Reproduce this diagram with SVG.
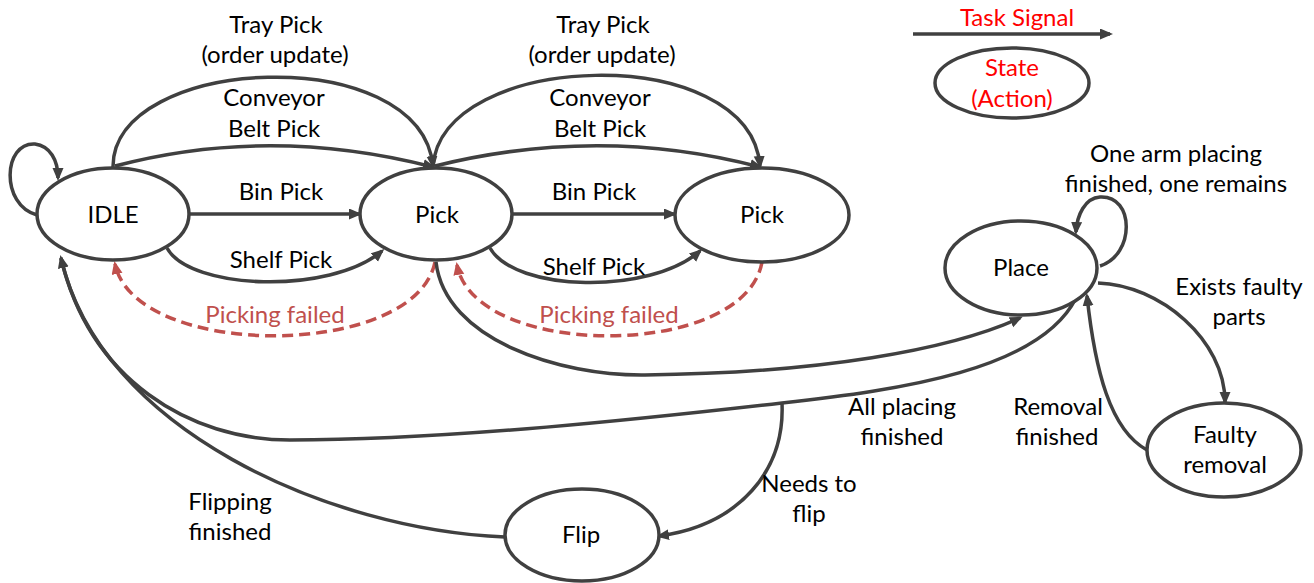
<svg xmlns="http://www.w3.org/2000/svg" width="1314" height="583" viewBox="0 0 1314 583">
<defs>
<style>
.n{fill:#fff;stroke:#404040;stroke-width:3.5}
.e{fill:none;stroke:#404040;stroke-width:3.5}
.d{fill:none;stroke:#C0504D;stroke-width:3.5;stroke-dasharray:11 6}
text{font-family:Lato,"Liberation Sans",sans-serif;font-size:24px;fill:#000;text-anchor:middle}
.r{fill:#FF0000}
.f{fill:#C0504D}
</style>
<marker id="a" markerUnits="userSpaceOnUse" markerWidth="14" markerHeight="12" refX="10" refY="5.5" orient="auto">
<path d="M0,0 L13,5.5 L0,11 z" fill="#404040"/>
</marker>
<marker id="ar" markerUnits="userSpaceOnUse" markerWidth="14" markerHeight="12" refX="10" refY="5.5" orient="auto">
<path d="M0,0 L13,5.5 L0,11 z" fill="#C0504D"/>
</marker>
</defs>
<rect width="1314" height="583" fill="#fff"/>
<g id="connectors">
<path class="e" marker-end="url(#a)" d="M37 215 C0 205 3 142 35 144 C50 146 58 160 58 178"/>
<path class="e" marker-end="url(#a)" d="M113 167 C112 55 420 40 433 166"/>
<path class="e" marker-end="url(#a)" d="M115 166 Q270 125 433 167"/>
<path class="e" marker-end="url(#a)" d="M189 214 L359 214"/>
<path class="e" marker-end="url(#a)" d="M167 248 C190 290 330 295 382 251"/>
<path class="e" marker-end="url(#a)" d="M433 167 C440 50 750 40 760 166"/>
<path class="e" marker-end="url(#a)" d="M435 166 Q600 125 760 167"/>
<path class="e" marker-end="url(#a)" d="M511 214 L674 214"/>
<path class="e" marker-end="url(#a)" d="M490 248 C515 292 650 295 700 251"/>
<path class="d" marker-end="url(#ar)" d="M435 262 C415 360 135 360 115 264"/>
<path class="d" marker-end="url(#ar)" d="M762 262 C745 360 475 360 457 265"/>
<path class="e" marker-end="url(#a)" d="M436 262 C445 340 560 376 645 375 C820 373 950 350 1020 318"/>
<path class="e" marker-end="url(#a)" d="M1076 298 C1040 370 900 390 782 403 C650 418 450 440 290 440 C190 440 90 380 61 258"/>
<path class="e" d="M505 537 C330 530 100 430 61 258"/>
<path class="e" marker-end="url(#a)" d="M782 403 C785 470 740 525 659 536"/>
<path class="e" marker-end="url(#a)" d="M1100 266 C1135 255 1135 195 1100 197 C1085 198 1077 215 1076 232"/>
<path class="e" marker-end="url(#a)" d="M1098 283 C1160 285 1225 340 1225 402"/>
<path class="e" marker-end="url(#a)" d="M1147 450 C1110 430 1095 370 1087 296"/>
<path class="e" marker-end="url(#a)" d="M913 34 L1110 34"/>
</g>
<g id="idle"><ellipse class="n" cx="113" cy="214" rx="76" ry="46"/><text x="113" y="223">IDLE</text></g>
<g id="pick1"><ellipse class="n" cx="436" cy="214" rx="76" ry="46"/><text x="437" y="223">Pick</text></g>
<g id="pick2"><ellipse class="n" cx="762" cy="215" rx="87" ry="47"/><text x="762" y="223">Pick</text></g>
<g id="place"><ellipse class="n" cx="1021" cy="268" rx="76" ry="47"/><text x="1021" y="276">Place</text></g>
<g id="faulty"><ellipse class="n" cx="1224" cy="450" rx="77" ry="47"/><text x="1225" y="443">Faulty</text><text x="1225" y="473">removal</text></g>
<g id="flip"><ellipse class="n" cx="582" cy="535" rx="77" ry="46"/><text x="581" y="543">Flip</text></g>
<g id="legend"><ellipse class="n" cx="1012" cy="83" rx="77" ry="35"/><text class="r" x="1012" y="76">State</text><text class="r" x="1012" y="107">(Action)</text><text class="r" x="1017" y="26">Task Signal</text></g>
<g id="labels">
<text x="276" y="33">Tray Pick</text><text x="275" y="63">(order update)</text>
<text x="274" y="106">Conveyor</text><text x="274" y="137">Belt Pick</text>
<text x="281" y="200">Bin Pick</text><text x="281" y="268">Shelf Pick</text>
<text x="603" y="33">Tray Pick</text><text x="602" y="63">(order update)</text>
<text x="600" y="106">Conveyor</text><text x="600" y="137">Belt Pick</text>
<text x="594" y="200">Bin Pick</text><text x="594" y="275">Shelf Pick</text>
<text class="f" x="275" y="323">Picking failed</text>
<text class="f" x="609" y="323">Picking failed</text>
<text x="1176" y="162">One arm placing</text><text x="1176" y="192">finished, one remains</text>
<text x="1239" y="295">Exists faulty</text><text x="1239" y="325">parts</text>
<text x="902" y="415">All placing</text><text x="902" y="445">finished</text>
<text x="1058" y="415">Removal</text><text x="1057" y="445">finished</text>
<text x="809" y="492">Needs to</text><text x="809" y="522">flip</text>
<text x="230" y="510">Flipping</text><text x="230" y="540">finished</text>
</g>
</svg>
